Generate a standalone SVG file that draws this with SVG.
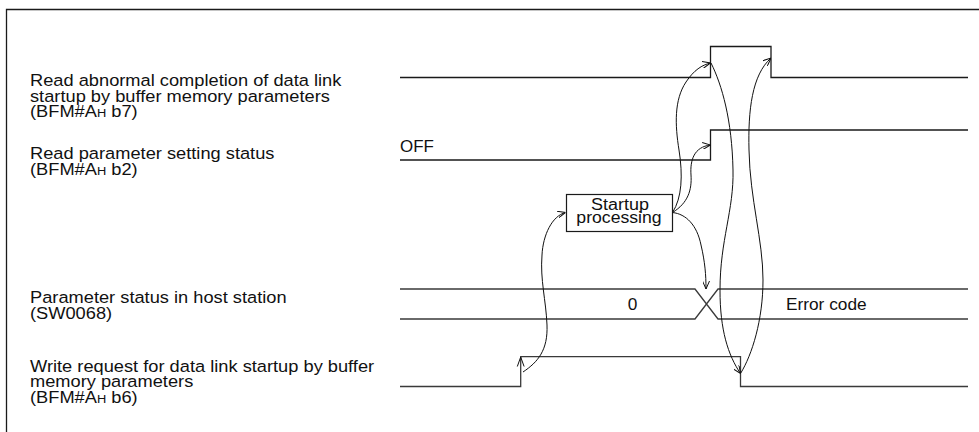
<svg xmlns="http://www.w3.org/2000/svg" width="979" height="432" viewBox="0 0 979 432">
<style>
.t{font-family:"Liberation Sans",Arial,Helvetica,sans-serif;font-size:16.3px;fill:#111}
.b{font-size:17.3px}
.s{fill:none;stroke:#1a1a1a;stroke-width:1.3}
.g{fill:none;stroke:#3a3a3a;stroke-width:1.3}
.c{fill:none;stroke:#111;stroke-width:1}
.sub{font-size:11.5px}
</style>
<defs>
<marker id="ah" viewBox="0 0 8 7" refX="8" refY="3.5" markerWidth="8" markerHeight="7" markerUnits="userSpaceOnUse" orient="auto">
<path d="M0,0 L8,3.5 L0,7" fill="none" stroke="#111" stroke-width="1"/>
</marker>
</defs>
<rect width="979" height="432" fill="#fff"/>
<path class="s" d="M6.5,432 V9.5 H979"/>

<g id="label-b7">
<text class="t" transform="translate(30,86.3) scale(1.12,1)"><tspan x="0" y="0">Read abnormal completion of data link</tspan><tspan x="0" y="15.3">startup by buffer memory parameters</tspan><tspan x="0" y="30.6">(BFM#A<tspan class="sub">H</tspan> b7)</tspan></text>
</g>
<g id="label-b2">
<text class="t" transform="translate(30,159.3) scale(1.12,1)"><tspan x="0" y="0">Read parameter setting status</tspan><tspan x="0" y="15.3">(BFM#A<tspan class="sub">H</tspan> b2)</tspan></text>
</g>
<g id="label-sw0068">
<text class="t" transform="translate(30,303.3) scale(1.12,1)"><tspan x="0" y="0">Parameter status in host station</tspan><tspan x="0" y="15.3">(SW0068)</tspan></text>
</g>
<g id="label-b6">
<text class="t" transform="translate(30,372) scale(1.12,1)"><tspan x="0" y="0">Write request for data link startup by buffer</tspan><tspan x="0" y="15.3">memory parameters</tspan><tspan x="0" y="30.6">(BFM#A<tspan class="sub">H</tspan> b6)</tspan></text>
</g>

<g id="signal-b7">
<path class="s" d="M400,77.5 H710.5 V46.5 H771 V77.5 H968"/>
</g>
<g id="signal-b2">
<path class="s" d="M400,160 H710.5 V130 H968"/>
<text class="t" transform="translate(400,151.5) scale(1.04,1)">OFF</text>
</g>
<g id="signal-sw0068">
<path class="g" d="M400,289 H695 L718,319 H968 M400,319 H695 L718,289 H968"/>
<text class="t" text-anchor="middle" transform="translate(632.5,309.5) scale(1.06,1)">0</text>
<text class="t" transform="translate(786,310) scale(1.06,1)">Error code</text>
</g>
<g id="signal-b6">
<path class="g" d="M400,386.5 H520.7 V356.7 H740.5 V386.5 H968"/>
<path class="c" d="M517.3,366.5 L520.7,357 L524.1,366.5"/>
</g>
<g id="startup-processing">
<rect x="566.5" y="194.5" width="106" height="37" fill="#fff" stroke="#1a1a1a" stroke-width="1.2"/>
<text class="t b" text-anchor="middle" transform="translate(620,210) scale(1.04,1)">Startup</text>
<text class="t b" text-anchor="middle" transform="translate(619,222.8) scale(1.02,1)">processing</text>
</g>

<g id="connectors">
<path class="c" marker-end="url(#ah)" d="M523,372 C538,362 548,350 547,325 C546,300 540,280 542,255 C543,235 552,216 565.5,212.5"/>
<path class="c" marker-end="url(#ah)" d="M672.5,212.5 C682,198 683,175 679,150 C675,125 674,100 686,82 C694,70 702,65 710.5,63"/>
<path class="c" marker-end="url(#ah)" d="M672.5,212.5 C688,203 692,190 691,175 C690,160 694,147 710.5,145"/>
<path class="c" marker-end="url(#ah)" d="M672.5,212.5 C686,214 697,225 701,245 C705,262 706,275 706,289"/>
<path class="c" marker-end="url(#ah)" d="M711,63 C722,85 732,120 733,170 C734,210 720,240 720,290 C720,330 728,355 740.5,373.5"/>
<path class="c" marker-end="url(#ah)" d="M740.5,373.5 C752,355 763,320 763,280 C763,240 750,200 749,150 C748,110 752,75 771,58"/>
</g>
</svg>
